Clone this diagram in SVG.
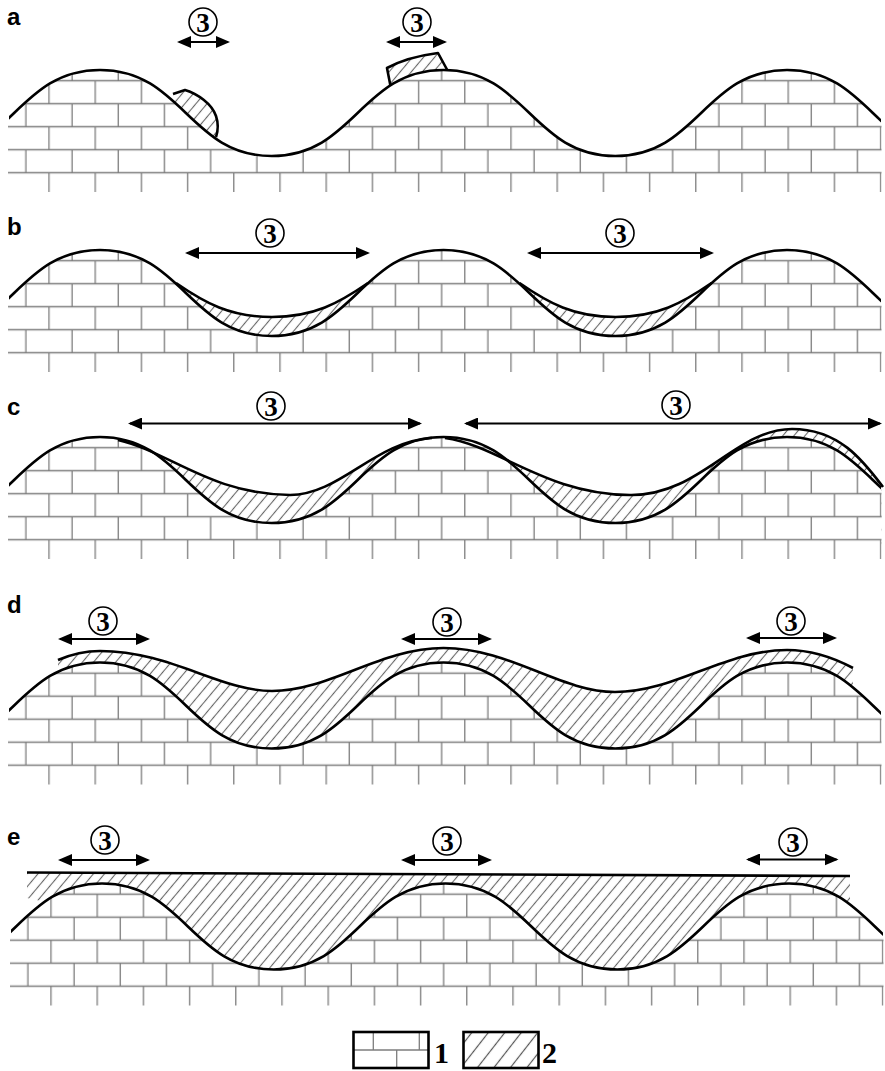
<svg xmlns="http://www.w3.org/2000/svg" xmlns:xlink="http://www.w3.org/1999/xlink" width="885" height="1071" viewBox="0 0 885 1071">
  <style>
    .lbl { font-family: "Liberation Sans", Arial, sans-serif; font-weight: bold; font-size: 24px; fill: #000; }
    .num { font-family: "Liberation Serif", "Times New Roman", serif; font-weight: bold; font-size: 27px; fill: #000; text-anchor: middle; }
    .leg { font-family: "Liberation Serif", "Times New Roman", serif; font-weight: bold; font-size: 30px; fill: #000; }
    .ring { fill: none; stroke: #000; stroke-width: 1.6; }
    .dim { stroke: #000; stroke-width: 2; fill: none; marker-start: url(#ah); marker-end: url(#ah); }
    .edge { fill: none; stroke: #000; stroke-width: 2.6; stroke-linejoin: round; }
    .dep { fill: url(#hatch); stroke: none; clip-path: url(#clipSheet); }
    .bl { stroke: #7d7d7d; stroke-width: 1.3; fill: none; }
  </style>
  <defs>
    <!-- limestone brick fill: rows 23 px high, bricks 46.2 px long, staggered -->
    <pattern id="brick" patternUnits="userSpaceOnUse" x="37.45" y="69.2" width="46.2" height="46">
      <path class="bl" d="M-1,11.5H47.2M-1,34.5H47.2M11.55,11.5V34.5M34.65,34.5V46.5M34.65,-0.5V11.5"/>
    </pattern>
    <!-- diagonal hatch for the cover deposits -->
    <pattern id="hatch" patternUnits="userSpaceOnUse" width="8.5" height="8.5" patternTransform="rotate(40)">
      <path d="M4.25,-1V9.5" stroke="#666" stroke-width="1.1"/>
    </pattern>
    <pattern id="hatchL" patternUnits="userSpaceOnUse" width="13" height="13" patternTransform="rotate(38)">
      <path d="M6.5,-1V14" stroke="#555" stroke-width="1.2"/>
    </pattern>
    <marker id="ah" markerUnits="userSpaceOnUse" markerWidth="14" markerHeight="12" viewBox="0 0 14 12" refX="12" refY="6" orient="auto-start-reverse">
      <path d="M0,0L14,6L0,12Z" fill="#000"/>
    </marker>
    <clipPath id="clipR"><rect x="8" y="0" width="873.5" height="200"/></clipPath>
    <clipPath id="clipW"><rect x="9" y="0" width="872" height="200"/></clipPath>
    <clipPath id="clipSheet"><rect x="8" y="0" width="873.5" height="1071"/></clipPath>
    <!-- bedrock body below the karst surface -->
    <g id="rock" clip-path="url(#clipR)">
      <path d="M-71.75,156C10.65,156 17.6,70 100,70C182.4,70 189.35,156 271.75,156C354.15,156 361.1,70 443.5,70C525.9,70 532.85,156 615.25,156C697.65,156 704.6,70 787,70C869.4,70 876.35,156 958.75,156L958.75,192L-71.75,192Z" fill="#fff"/>
      <path d="M-71.75,156C10.65,156 17.6,70 100,70C182.4,70 189.35,156 271.75,156C354.15,156 361.1,70 443.5,70C525.9,70 532.85,156 615.25,156C697.65,156 704.6,70 787,70C869.4,70 876.35,156 958.75,156L958.75,192L-71.75,192Z" fill="url(#brick)"/>
    </g>
    <!-- karst surface line -->
    <path id="surface" clip-path="url(#clipW)" fill="none" stroke="#000" stroke-width="2.6" d="M-71.75,156C10.65,156 17.6,70 100,70C182.4,70 189.35,156 271.75,156C354.15,156 361.1,70 443.5,70C525.9,70 532.85,156 615.25,156C697.65,156 704.6,70 787,70C869.4,70 876.35,156 958.75,156"/>
  </defs>

  <!-- stage a -->
  <g id="panel-a">
    <path class="dep" d="M173,94L185,90C198,94 212,104 216,116C219,125 218,131 216,137L170,137Z"/>
    <path class="dep" d="M390.5,86L387,68C398,62 415,56 438,53L447,69.5L447,92L390,92Z"/>
    <use xlink:href="#rock"/>
    <use xlink:href="#surface"/>
    <path class="edge" d="M173,94L185,90C198,94 212,104 216,116C219,125 218,131 216,137"/>
    <path class="edge" d="M390.5,86L387,68C398,62 415,56 438,53L447,69.5"/>
    <text class="lbl" x="7" y="25">a</text>
  </g>

  <!-- stage b -->
  <g id="panel-b">
    <path class="dep" d="M176,283C205,303 230,317 272,317C314,317 339,303 368,283L368,345L176,345Z"/>
    <path class="dep" d="M519.5,283C548.5,303 573.5,317 615.5,317C657.5,317 682.5,303 711.5,283L711.5,345L519.5,345Z"/>
    <use xlink:href="#rock" transform="translate(0,180)"/>
    <use xlink:href="#surface" transform="translate(0,180)"/>
    <path class="edge" d="M176,283C205,303 230,317 272,317C314,317 339,303 368,283"/>
    <path class="edge" d="M519.5,283C548.5,303 573.5,317 615.5,317C657.5,317 682.5,303 711.5,283"/>
    <text class="lbl" x="7" y="235">b</text>
  </g>

  <!-- stage c -->
  <g id="panel-c">
    <path class="dep" d="M118,440C170,452 210,494 290,495C340,495 375,441 432,438L432,545L118,545Z"/>
    <path class="dep" d="M445,438C500,446 545,494 630,495C700,496 735,429 792,429C840,429 864,462 883,487L883,545L445,545Z"/>
    <use xlink:href="#rock" transform="translate(0,367)"/>
    <use xlink:href="#surface" transform="translate(0,367)"/>
    <path class="edge" d="M118,440C170,452 210,494 290,495C340,495 375,441 432,438"/>
    <path class="edge" d="M445,438C500,446 545,494 630,495C700,496 735,429 792,429C840,429 864,462 883,487"/>
    <text class="lbl" x="7" y="415">c</text>
  </g>

  <!-- stage d -->
  <g id="panel-d">
    <path class="dep" d="M58,660C72,654 85,651 100,651C170,651 220,691 272,691C330,691 380,648 443.5,648C510,648 560,692 615,692C675,692 725,650 787,650C815,650 838,660 853,668L853,765L58,765Z"/>
    <use xlink:href="#rock" transform="translate(0,592.5)"/>
    <use xlink:href="#surface" transform="translate(0,592.5)"/>
    <path class="edge" d="M58,660C72,654 85,651 100,651C170,651 220,691 272,691C330,691 380,648 443.5,648C510,648 560,692 615,692C675,692 725,650 787,650C815,650 838,660 853,668"/>
    <text class="lbl" x="7" y="613">d</text>
  </g>

  <!-- stage e -->
  <g id="panel-e">
    <path class="dep" d="M27,872.5L850,876L850,1000L60,1000L60,905L27,898Z"/>
    <use xlink:href="#rock" transform="translate(2,813.5)"/>
    <use xlink:href="#surface" transform="translate(2,813.5)"/>
    <path class="edge" d="M27,872.5L850,876"/>
    <text class="lbl" x="7" y="845">e</text>
  </g>

  <!-- dimension arrows with the circled index 3 -->
  <g id="connectors">
    <path class="dim" d="M179,42H228"/>
    <path class="dim" d="M388,42H445"/>
    <path class="dim" d="M187,253H368"/>
    <path class="dim" d="M529,253H712"/>
    <path class="dim" d="M130,423.5H420"/>
    <path class="dim" d="M466,423.5H880"/>
    <path class="dim" d="M60,639H148"/>
    <path class="dim" d="M403,639H490"/>
    <path class="dim" d="M748,638H835"/>
    <path class="dim" d="M60,860H148"/>
    <path class="dim" d="M403,860H490"/>
    <path class="dim" d="M748,859.5H836.5"/>
  </g>
  <g id="marks">
    <g transform="translate(203,22)"><circle class="ring" r="14"/><text class="num" y="9.5">3</text></g>
    <g transform="translate(417,22)"><circle class="ring" r="14"/><text class="num" y="9.5">3</text></g>
    <g transform="translate(270,233)"><circle class="ring" r="14"/><text class="num" y="9.5">3</text></g>
    <g transform="translate(620,233)"><circle class="ring" r="14"/><text class="num" y="9.5">3</text></g>
    <g transform="translate(271,406)"><circle class="ring" r="14"/><text class="num" y="9.5">3</text></g>
    <g transform="translate(676,405)"><circle class="ring" r="14"/><text class="num" y="9.5">3</text></g>
    <g transform="translate(103,621)"><circle class="ring" r="14"/><text class="num" y="9.5">3</text></g>
    <g transform="translate(447,622)"><circle class="ring" r="14"/><text class="num" y="9.5">3</text></g>
    <g transform="translate(791,621)"><circle class="ring" r="14"/><text class="num" y="9.5">3</text></g>
    <g transform="translate(105,840)"><circle class="ring" r="14"/><text class="num" y="9.5">3</text></g>
    <g transform="translate(447,841)"><circle class="ring" r="14"/><text class="num" y="9.5">3</text></g>
    <g transform="translate(793,842)"><circle class="ring" r="14"/><text class="num" y="9.5">3</text></g>
  </g>

  <!-- legend -->
  <g id="legend-1">
    <rect x="353.5" y="1032" width="75" height="36" fill="#fff"/>
    <path class="bl" d="M353.5,1050H428.5M373.3,1032V1050M419.3,1032V1050M396.7,1050V1068"/>
    <rect x="353.5" y="1032" width="75" height="36" fill="none" stroke="#000" stroke-width="2.6"/>
    <text class="leg" x="434" y="1063">1</text>
  </g>
  <g id="legend-2">
    <rect x="463.5" y="1032" width="75" height="36" fill="url(#hatchL)" stroke="#000" stroke-width="2.6"/>
    <text class="leg" x="542" y="1063">2</text>
  </g>
</svg>
